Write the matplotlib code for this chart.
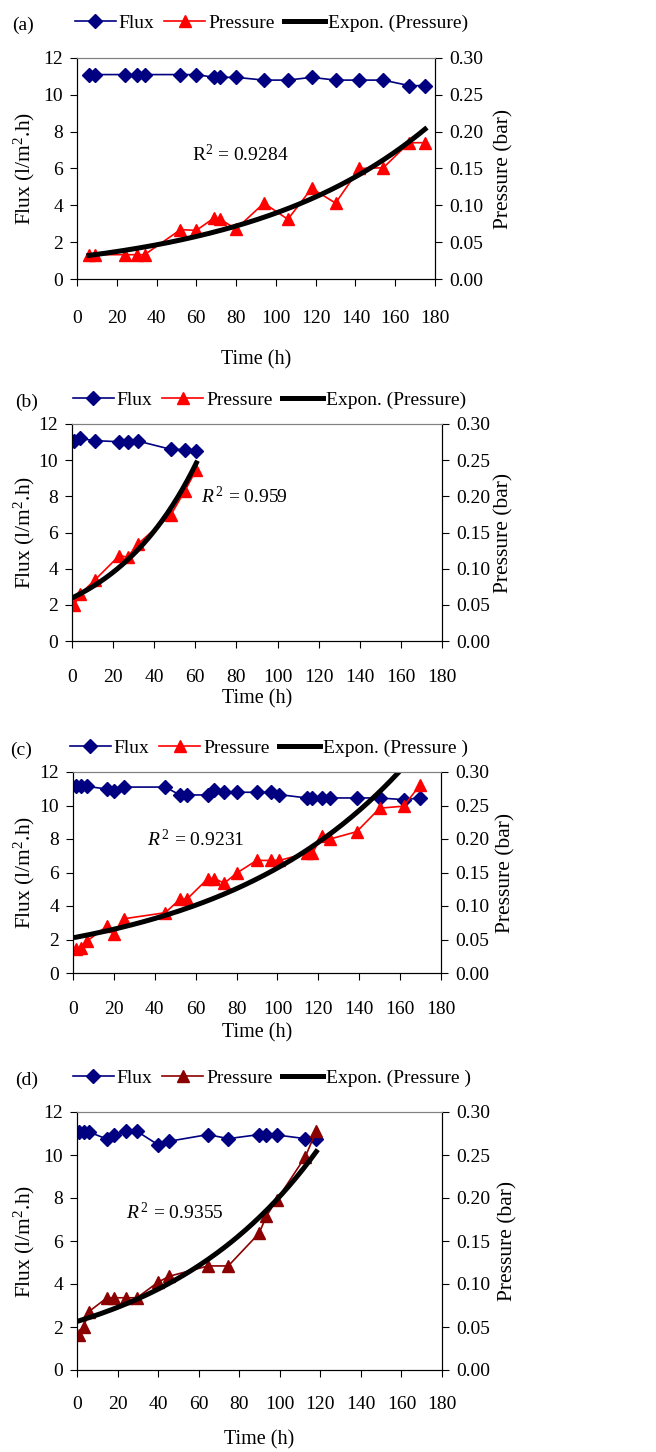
import numpy as np
import matplotlib
matplotlib.use("Agg")
import matplotlib.pyplot as plt

plt.rcParams['font.family'] = ['Liberation Serif', 'DejaVu Serif']
plt.rcParams['mathtext.fontset'] = 'custom'
plt.rcParams['mathtext.rm'] = 'Liberation Serif'
plt.rcParams['mathtext.it'] = 'Liberation Serif:italic'
plt.rcParams['font.size'] = 14

# panel (a)
time_a = [6, 9, 24, 30, 34, 52, 60, 69, 72, 80, 94, 106, 118, 130, 142, 154, 167, 175]
flux_a = [11.1, 11.1, 11.1, 11.1, 11.1, 11.1, 11.1, 10.95, 10.95, 10.95, 10.8, 10.8,
          10.95, 10.8, 10.8, 10.8, 10.5, 10.5]
pres_a = [0.033, 0.033, 0.033, 0.033, 0.033, 0.067, 0.066, 0.083, 0.081, 0.068, 0.103,
          0.081, 0.123, 0.103, 0.150, 0.151, 0.185, 0.185]

# panel (b)
time_b = [1, 4, 11, 23, 27, 32, 48, 55, 60.5]
flux_b = [11.08, 11.2, 11.08, 11.02, 11.02, 11.06, 10.6, 10.58, 10.49]
pres_b = [0.050, 0.065, 0.084, 0.118, 0.116, 0.134, 0.174, 0.208, 0.237]

# panel (c)
time_c = [1.6, 3.8, 7, 16.7, 20.1, 25, 45.1, 52.3, 56, 66, 69.1, 74, 80, 89.8, 96.9,
          101, 114.3, 117.1, 121.7, 125.8, 138.8, 150, 161.7, 169.9]
flux_c = [11.14, 11.14, 11.14, 10.98, 10.85, 11.1, 11.1, 10.63, 10.63, 10.63, 10.95,
          10.79, 10.79, 10.79, 10.79, 10.65, 10.45, 10.45, 10.45, 10.45, 10.45, 10.45,
          10.35, 10.45]
pres_c = [0.036, 0.038, 0.048, 0.070, 0.058, 0.081, 0.090, 0.110, 0.111, 0.141, 0.141,
          0.134, 0.149, 0.168, 0.168, 0.168, 0.179, 0.179, 0.204, 0.200, 0.211, 0.246,
          0.249, 0.281]

# panel (d)
time_d = [1, 3.3, 5.9, 14.8, 18.1, 24.3, 29.6, 39.9, 45.5, 64.6, 74.6, 89.8, 93.4,
          98.6, 112.6, 118]
flux_d = [11.07, 11.07, 11.07, 10.74, 10.93, 11.1, 11.1, 10.48, 10.64, 10.95, 10.76,
          10.95, 10.95, 10.93, 10.76, 10.76]
pres_d = [0.041, 0.050, 0.068, 0.084, 0.084, 0.084, 0.084, 0.102, 0.109, 0.121, 0.121,
          0.159, 0.179, 0.198, 0.248, 0.278]

r2_labels = ['R$^{2}$ = 0.9284', '$R^{\\,2}$ = 0.959', '$R^{\\,2}$ = 0.9231', '$R^{\\,2}$ = 0.9355']
expon_labels = ['Expon. (Pressure)', 'Expon. (Pressure)', 'Expon. (Pressure )', 'Expon. (Pressure )']
pres_colors = ['#FF0000', '#FF0000', '#FF0000', '#8B0000']
flux_color = '#000080'

W, H = 656, 1452
fig = plt.figure(figsize=(W / 100, H / 100), dpi=100)


def rect(l, r, t, b):
    return [l / W, 1 - b / H, (r - l) / W, (b - t) / H]


def panel(box, tag, tag_x, leg_x, leg_y, t, flux, pres, pcolor, elabel, r2, r2_xy,
          xpad, time_y, ylab_x, y2lab_x):
    ax = fig.add_axes(rect(*box))
    ax2 = ax.twinx()
    t = np.array(t)
    pres = np.array(pres)
    l1, = ax.plot(t, flux, color=flux_color, lw=1.2, marker='D', ms=7)
    l2, = ax2.plot(t, pres, color=pcolor, lw=1.2, marker='^', ms=9)
    # Excel style exponential trendline: linear fit of ln(p)
    b, a = np.polyfit(t, np.log(pres), 1)
    tt = np.linspace(t.min(), t.max(), 200)
    l3, = ax2.plot(tt, np.exp(a) * np.exp(b * tt), color='black', lw=3.6)

    ax.set_xlim(0, 180)
    ax.set_xticks(range(0, 181, 20))
    ax.set_ylim(0, 12)
    ax.set_yticks(range(0, 13, 2))
    ax2.set_ylim(0, 0.3)
    ax2.set_yticks(np.arange(0, 0.31, 0.05))
    ax2.set_yticklabels(['%.2f' % v for v in np.arange(0, 0.31, 0.05)])
    ax.tick_params(axis='x', direction='out', length=5, pad=xpad)
    ax.tick_params(axis='y', direction='out', length=5, pad=5)
    ax2.tick_params(axis='y', direction='out', length=5, pad=5)
    for a_ in (ax, ax2):
        a_.spines['top'].set_color('#808080')
        a_.spines['top'].set_linewidth(0.8)
    ax.text(r2_xy[0], r2_xy[1], r2, ha='center', va='center', fontsize=14)

    cy = (box[2] + box[3]) / 2
    cx = (box[0] + box[1]) / 2
    fig.text(ylab_x / W, 1 - cy / H, 'Flux (l/m$^{2}$.h)', rotation=90,
             ha='center', va='center', fontsize=15.5)
    fig.text(y2lab_x / W, 1 - cy / H, 'Pressure (bar)', rotation=90,
             ha='center', va='center', fontsize=15.5)
    fig.text(cx / W, 1 - time_y / H, 'Time (h)', ha='center', va='center', fontsize=14.5)
    fig.text(tag_x / W, 1 - (leg_y + 2) / H, tag, ha='left', va='center')
    fig.legend([l1, l2, l3], ['Flux', 'Pressure', elabel], loc='center left',
               bbox_to_anchor=(leg_x / W, 1 - leg_y / H), ncol=3, frameon=False,
               borderpad=0, borderaxespad=0, handlelength=2.1, handletextpad=0.15,
               columnspacing=0.5, fontsize=14)


panel((77, 435, 58, 279), '(a)', 12, 75, 23, time_a, flux_a, pres_a, pres_colors[0],
      expon_labels[0], r2_labels[0], (82, 6.74), 17.5, 360, 24, 504)
panel((72, 442, 424, 641), '(b)', 15, 73, 400, time_b, flux_b, pres_b, pres_colors[1],
      expon_labels[1], r2_labels[1], (84, 8.0), 15, 699, 24, 504)
panel((73, 441, 772, 973), '(c)', 10, 70, 748, time_c, flux_c, pres_c, pres_colors[2],
      expon_labels[2], r2_labels[2], (60, 7.96), 15.5, 1033, 24, 506)
panel((77, 442, 1112, 1370), '(d)', 15, 73, 1078, time_d, flux_d, pres_d, pres_colors[3],
      expon_labels[3], r2_labels[3], (48.5, 7.33), 13.5, 1440, 24, 508)

fig.savefig('out.png', dpi=100)
